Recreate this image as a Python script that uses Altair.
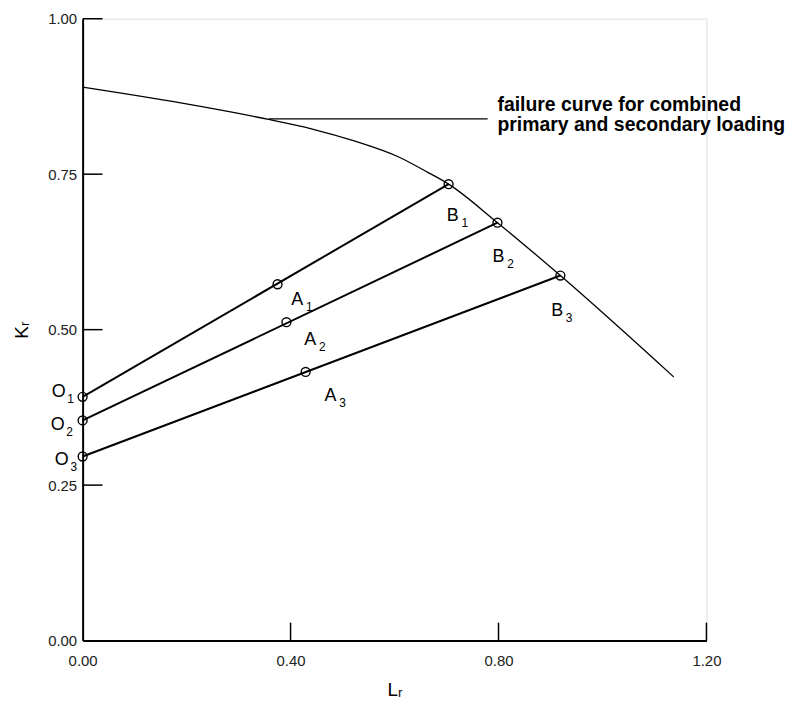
import altair as alt
import pandas as pd

# Failure curve (Lr, Kr)
curve_lr = [0.0, 0.186, 0.358, 0.44, 0.524, 0.607, 0.664, 0.704, 0.798, 0.919, 1.137]
curve_kr = [0.890, 0.865, 0.838, 0.823, 0.803, 0.778, 0.753, 0.734, 0.672, 0.587, 0.424]

# Loading paths O -> A -> B
series = ["1", "2", "3"]
o_lr = [0.0, 0.0, 0.0]
o_kr = [0.392, 0.354, 0.296]
a_lr = [0.375, 0.392, 0.429]
a_kr = [0.573, 0.512, 0.432]
b_lr = [0.704, 0.798, 0.919]
b_kr = [0.734, 0.672, 0.587]

# Point labels (letter, subscript, position of letter)
lab_letter = ["O", "O", "O", "A", "A", "A", "B", "B", "B"]
lab_sub = ["1", "2", "3", "1", "2", "3", "1", "2", "3"]
lab_lr = [-0.046, -0.048, -0.040, 0.413, 0.438, 0.477, 0.712, 0.800, 0.913]
lab_kr = [0.400, 0.346, 0.291, 0.547, 0.483, 0.394, 0.682, 0.616, 0.530]

# Callout
callout_lines = ["failure curve for combined", "primary and secondary loading"]
callout_lr = [0.798, 0.798]
callout_kr = [0.851, 0.819]
leader_lr = [0.358]
leader_lr2 = [0.779]
leader_kr = [0.839]

x_ticks = [0.0, 0.4, 0.8, 1.2]
y_ticks = [0.0, 0.25, 0.5, 0.75, 1.0]
x_tick_marks = [0.4, 0.8, 1.2]
y_tick_marks = [0.25, 0.5, 0.75, 1.0]

W, H = 627, 625
FONT = "Liberation Sans"

xs = alt.Scale(domain=[0, 1.2], nice=False)
ys = alt.Scale(domain=[0, 1.0], nice=False)

curve_df = pd.DataFrame({"Lr": curve_lr, "Kr": curve_kr, "i": range(len(curve_lr))})
rows = []
for s, ol, ok, bl, bk in zip(series, o_lr, o_kr, b_lr, b_kr):
    rows.append({"s": s, "Lr": ol, "Kr": ok, "i": 0})
    rows.append({"s": s, "Lr": bl, "Kr": bk, "i": 1})
path_df = pd.DataFrame(rows)
pts_df = pd.DataFrame({"Lr": o_lr + a_lr + b_lr, "Kr": o_kr + a_kr + b_kr})
lab_df = pd.DataFrame({"t": lab_letter, "sub": lab_sub, "Lr": lab_lr, "Kr": lab_kr})
call_df = pd.DataFrame({"t": callout_lines, "Lr": callout_lr, "Kr": callout_kr})
lead_df = pd.DataFrame({"Lr": leader_lr, "Lr2": leader_lr2, "Kr": leader_kr})
xt_df = pd.DataFrame({"v": x_tick_marks})
yt_df = pd.DataFrame({"v": y_tick_marks})

x_axis = alt.Axis(values=x_ticks, format=".2f", ticks=False, grid=False,
                  domainColor="black", domainWidth=2, labelFont=FONT,
                  labelFontSize=15, labelColor="#222", labelPadding=13,
                  labelFlush=False,
                  title="Lᵣ", titleFont=FONT, titleFontSize=19,
                  titleFontWeight="normal", titlePadding=12)
y_axis = alt.Axis(values=y_ticks, format=".2f", ticks=False, grid=False,
                  domainColor="black", domainWidth=2, labelFont=FONT,
                  labelFontSize=15, labelColor="#222", labelPadding=6,
                  labelFlush=False,
                  title="Kᵣ", titleFont=FONT, titleFontSize=19,
                  titleFontWeight="normal", titlePadding=16)

curve = alt.Chart(curve_df).mark_line(color="black", strokeWidth=1.3, interpolate="monotone").encode(
    x=alt.X("Lr:Q", scale=xs, axis=x_axis),
    y=alt.Y("Kr:Q", scale=ys, axis=y_axis),
    order="i:O",
)

paths = alt.Chart(path_df).mark_line(color="black", strokeWidth=2).encode(
    x=alt.X("Lr:Q", scale=xs), y=alt.Y("Kr:Q", scale=ys), detail="s:N", order="i:O"
)

points = alt.Chart(pts_df).mark_point(shape="circle", filled=False, size=80,
                                      color="black", strokeWidth=1.4, opacity=1).encode(
    x=alt.X("Lr:Q", scale=xs), y=alt.Y("Kr:Q", scale=ys)
)

letters = alt.Chart(lab_df).mark_text(font=FONT, fontSize=18, color="black",
                                      align="center", baseline="middle").encode(
    x=alt.X("Lr:Q", scale=xs), y=alt.Y("Kr:Q", scale=ys), text="t:N"
)
subs = alt.Chart(lab_df).mark_text(font=FONT, fontSize=12, color="black",
                                   align="center", baseline="middle", dx=12, dy=7).encode(
    x=alt.X("Lr:Q", scale=xs), y=alt.Y("Kr:Q", scale=ys), text="sub:N"
)

callout = alt.Chart(call_df).mark_text(font=FONT, fontSize=19.5, fontWeight="bold",
                                       color="black", align="left", baseline="alphabetic").encode(
    x=alt.X("Lr:Q", scale=xs), y=alt.Y("Kr:Q", scale=ys), text="t:N"
)
leader = alt.Chart(lead_df).mark_rule(color="black", strokeWidth=1.2).encode(
    x=alt.X("Lr:Q", scale=xs), x2="Lr2:Q", y=alt.Y("Kr:Q", scale=ys)
)

xticks = alt.Chart(xt_df).mark_rule(color="black", strokeWidth=1.5).encode(
    x=alt.X("v:Q", scale=xs), y=alt.value(H), y2=alt.value(H - 18)
)
yticks = alt.Chart(yt_df).mark_rule(color="black", strokeWidth=1.5).encode(
    y=alt.Y("v:Q", scale=ys), x=alt.value(0), x2=alt.value(20)
)

chart = alt.layer(curve, paths, leader, xticks, yticks, points, letters, subs, callout).properties(
    width=W, height=H,
    autosize=alt.AutoSizeParams(type="none"),
    padding={"left": 75, "top": 9, "right": 88, "bottom": 70},
).configure_view(stroke=None).configure(background="white")

chart.save("out.html", embed_options={"renderer": "svg", "actions": False})
